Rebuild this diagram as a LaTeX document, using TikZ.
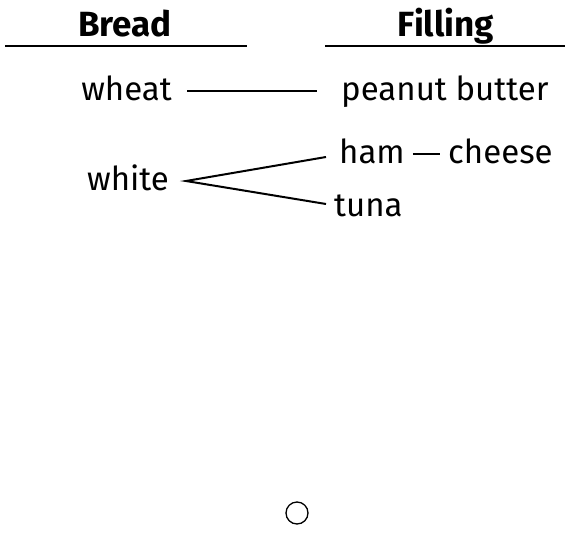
\documentclass[tikz,border=0pt]{standalone}
\usepackage{fontspec}
\setmainfont{Fira Sans}
\usetikzlibrary{calc}
\begin{document}
\begin{tikzpicture}[x=1pt,y=-1pt,
  lbl/.style={font=\fontsize{33}{38}\selectfont, inner sep=0pt},
  head/.style={font=\fontsize{35}{40}\selectfont\bfseries, inner sep=0pt, anchor=base},
  rule/.style={line width=2.2pt},
  conn/.style={line width=2pt}]
\useasboundingbox (0,0) rectangle (565,533);
\node[head] (bread) at (125,36) {Bread};
\node[head] (filling) at (446,36) {Filling};
\coordinate (l1a) at (5,46); \coordinate (l1b) at (247,46);
\coordinate (l2a) at (325,46); \coordinate (l2b) at (565,46);
\draw[rule] (l1a) -- (l1b);
\draw[rule] (l2a) -- (l2b);
\node[lbl, anchor=base east] (wheat) at (172,100) {wheat};
\node[lbl, anchor=base west] (pb) at (341,100) {peanut butter};
\draw[conn] ($(wheat.base east)+(15,-9)$) -- ($(pb.base west)+(-24,-9)$);
\node[lbl, anchor=base east] (white) at (169,190) {white};
\node[lbl, anchor=base west] (ham) at (339,163) {ham};
\node[lbl, anchor=base west] (cheese) at (448,163) {cheese};
\node[lbl, anchor=base west] (tuna) at (334,216) {tuna};
\draw[conn] ($(ham.base east)+(8,-9)$) -- ($(cheese.base west)+(-8,-9)$);
\coordinate (wtip) at ($(white.base east)+(17,-9)$);
\coordinate (hend) at ($(ham.base west)+(-13,-6)$);
\coordinate (tend) at ($(tuna.base west)+(-8,-12)$);
\draw[conn, line join=miter] (hend) -- (wtip) -- (tend);
\node[draw, circle, line width=1.3pt, minimum size=22pt, inner sep=0pt] (c) at (297,513) {};
\end{tikzpicture}
\end{document}
